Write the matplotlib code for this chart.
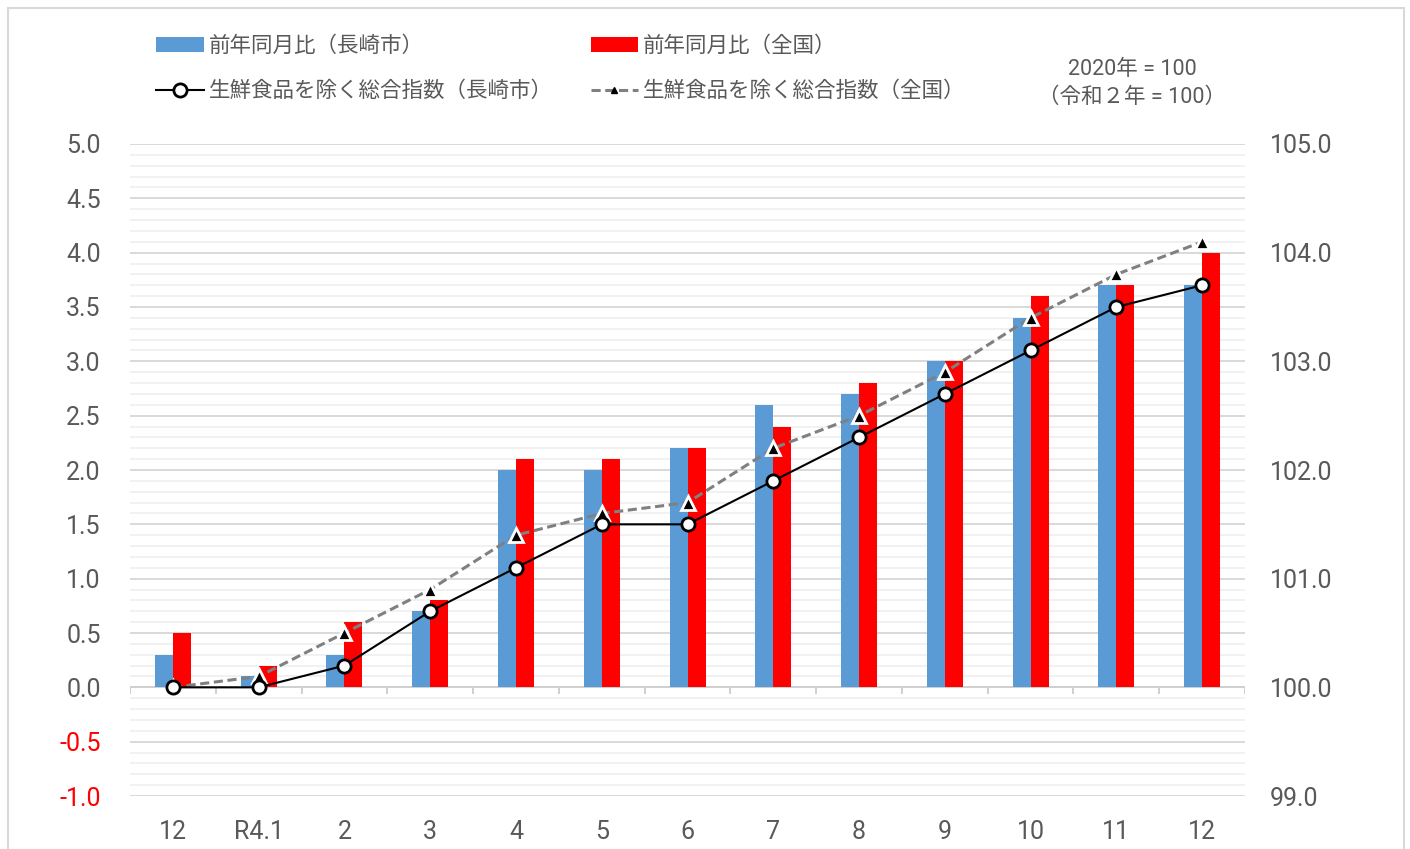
import numpy as np
import matplotlib.pyplot as plt
from matplotlib.ticker import MultipleLocator
from matplotlib.patches import Rectangle

plt.rcParams['font.family'] = ['Roboto', 'Noto Sans CJK JP', 'DejaVu Sans']

# データ
meses = ['12', 'R4.1', '2', '3', '4', '5', '6', '7', '8', '9', '10', '11', '12']
yoy_nagasaki = [0.3, 0.1, 0.3, 0.7, 2.0, 2.0, 2.2, 2.6, 2.7, 3.0, 3.4, 3.7, 3.7]
yoy_zenkoku = [0.5, 0.2, 0.6, 0.8, 2.1, 2.1, 2.2, 2.4, 2.8, 3.0, 3.6, 3.7, 4.0]
idx_nagasaki = [100.0, 100.0, 100.2, 100.7, 101.1, 101.5, 101.5, 101.9, 102.3, 102.7, 103.1, 103.5, 103.7]
idx_zenkoku = [100.0, 100.1, 100.5, 100.9, 101.4, 101.6, 101.7, 102.2, 102.5, 102.9, 103.4, 103.8, 104.1]

gris = '#595959'
x = np.arange(len(meses))
w = 0.21

fig = plt.figure(figsize=(14.1, 8.49), dpi=100)
ax = fig.add_axes([0.0922, 0.0624, 0.7908, 0.768])

# grilla
ax.set_ylim(-1.0, 5.0)
ax.set_xlim(-0.5, len(meses) - 0.5)
ax.yaxis.set_major_locator(MultipleLocator(0.5))
ax.yaxis.set_minor_locator(MultipleLocator(0.1))
ax.grid(which='minor', axis='y', color='#efefef', linewidth=1.2)
ax.grid(which='major', axis='y', color='#d9d9d9', linewidth=1.4)
ax.set_axisbelow(True)
for s in ax.spines.values():
    s.set_visible(False)

b1 = ax.bar(x - w / 2, yoy_nagasaki, w, color='#5b9bd5', zorder=2)
b2 = ax.bar(x + w / 2, yoy_zenkoku, w, color='#ff0000', zorder=2)

# eje x en cero con marcas entre categorías
ax.axhline(0, color='#d0d0d0', linewidth=1.4, zorder=1)
bordes = np.arange(len(meses) + 1) - 0.5
ax.vlines(bordes, -0.065, 0, color='#d0d0d0', linewidth=1.4, zorder=1)

ax.set_xticks(x)
ax.set_xticklabels(meses)
ax.tick_params(axis='x', length=0, pad=17.5, labelsize=18, labelcolor=gris)
ax.tick_params(axis='y', which='both', length=0, pad=21, labelsize=18, labelcolor=gris)
yt = np.arange(-1.0, 5.01, 0.5)
ax.set_yticks(yt)
ax.set_yticklabels([f'{v:.1f}' for v in yt])
for lab, v in zip(ax.get_yticklabels(), yt):
    if v < 0:
        lab.set_color('#ff0000')

# eje derecho (índice)
ax2 = ax.twinx()
ax2.set_ylim(99.0, 105.0)
yt2 = np.arange(99.0, 105.01, 1.0)
ax2.set_yticks(yt2)
ax2.set_yticklabels([f'{v:.1f}' for v in yt2])
ax2.tick_params(axis='y', length=0, pad=18, labelsize=18, labelcolor=gris)
for s in ax2.spines.values():
    s.set_visible(False)

l2, = ax2.plot(x, idx_zenkoku, color='#808080', linestyle=(0, (3, 1.5)), linewidth=2.2,
               marker='^', markersize=10, markerfacecolor='black', markeredgecolor='white',
               markeredgewidth=2, zorder=3)
l1, = ax2.plot(x, idx_nagasaki, color='black', linewidth=1.5,
               marker='o', markersize=9.5, markerfacecolor='white', markeredgecolor='black',
               markeredgewidth=2, zorder=4)

# leyenda
h_l2, = ax2.plot([], [], color='#808080', linestyle=(0, (3, 1.5)), linewidth=2.2,
                 marker='^', markersize=5, markerfacecolor='black', markeredgecolor='black')
fig.legend([b1, l1, b2, h_l2],
           ['前年同月比（長崎市）', '生鮮食品を除く総合指数（長崎市）',
            '前年同月比（全国）', '生鮮食品を除く総合指数（全国）'],
           ncol=2, loc='upper left', bbox_to_anchor=(0.097, 0.98), frameon=False,
           fontsize=15.5, labelcolor=gris, handlelength=2.2, handletextpad=0.25,
           columnspacing=1.75, labelspacing=1.1, handleheight=0.7)

fig.text(0.803, 0.918, '2020年 = 100', ha='center', va='center', fontsize=15.5, color=gris)
fig.text(0.803, 0.885, '（令和２年 = 100）', ha='center', va='center', fontsize=15.5, color=gris)

# marco
fig.patches.append(Rectangle((0.006, -0.01), 0.99, 1.0, transform=fig.transFigure,
                             fill=False, edgecolor='#d9d9d9', linewidth=1.5))

fig.savefig('out.png', dpi=100)
